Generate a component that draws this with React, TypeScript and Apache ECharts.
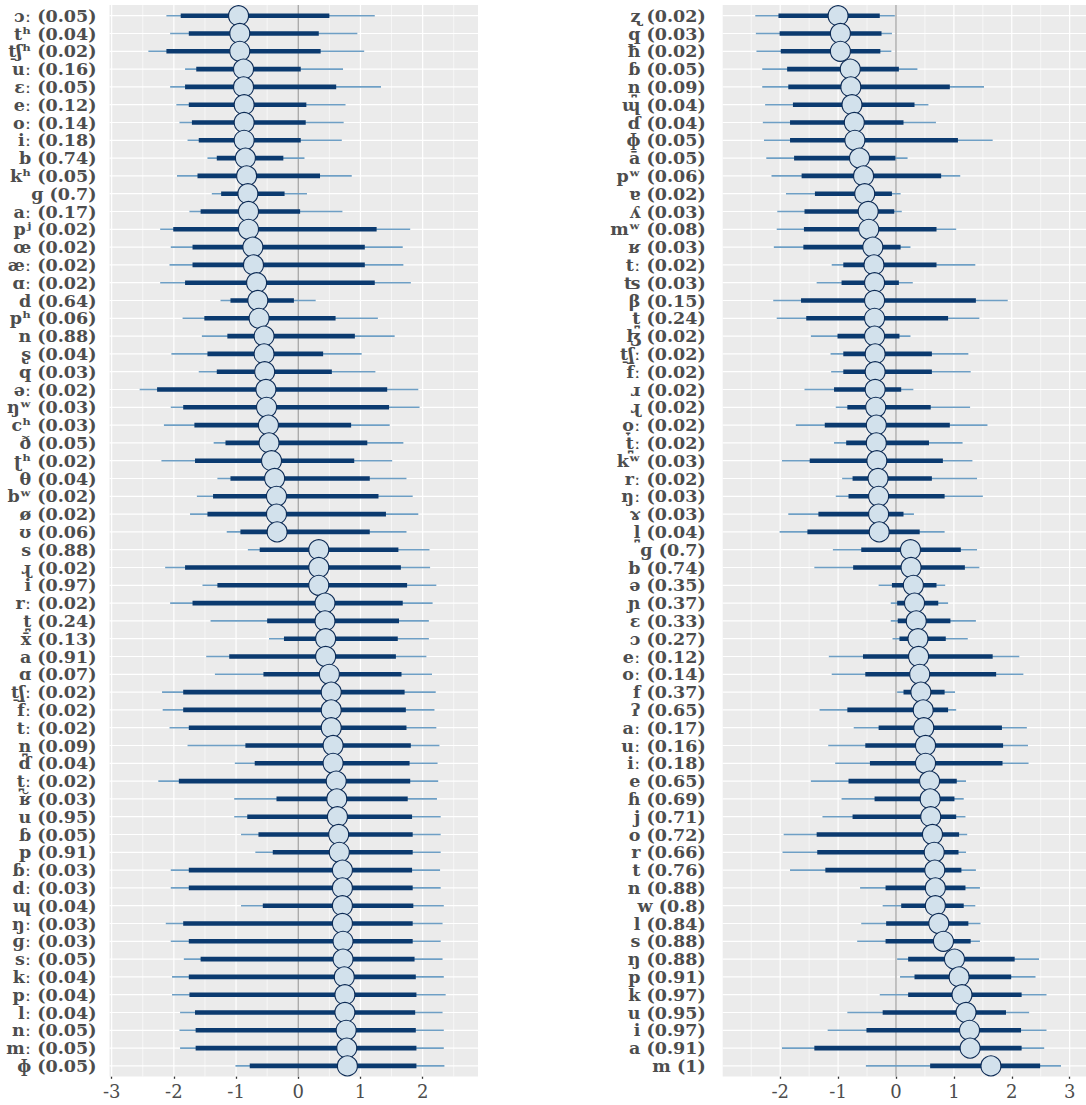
import React, { useEffect, useRef } from "react";
import * as echarts from "echarts";

// ---- left panel: segments with negative mean ----
const leftSymbols = [
  "ɔː", "tʰ", "t̠ʃʰ", "uː", "ɛː", "eː", "oː", "iː", "b", "kʰ",
  "ɡ", "aː", "pʲ", "œ", "æː", "ɑː", "d", "pʰ", "n", "ʂ",
  "q", "əː", "ŋʷ", "cʰ", "ð", "ʈʰ", "θ", "bʷ", "ø", "ʊ",
  "s", "ɻ", "i", "rː", "t̪", "x̄", "a", "ɑ", "t̠ʃː", "f̄ː",
  "tː", "n̪", "ɗ", "t̪ː", "ʁ̆", "u", "ɓ", "p", "ɓː", "dː",
  "ɰ", "ŋː", "ɡː", "sː", "kː", "pː", "lː", "nː", "mː", "ɸ",
];
const leftFreq = [
  "0.05", "0.04", "0.02", "0.16", "0.05", "0.12", "0.14", "0.18", "0.74", "0.05",
  "0.7", "0.17", "0.02", "0.02", "0.02", "0.02", "0.64", "0.06", "0.88", "0.04",
  "0.03", "0.02", "0.03", "0.03", "0.05", "0.02", "0.04", "0.02", "0.02", "0.06",
  "0.88", "0.02", "0.97", "0.02", "0.24", "0.13", "0.91", "0.07", "0.02", "0.02",
  "0.02", "0.09", "0.04", "0.02", "0.03", "0.95", "0.05", "0.91", "0.03", "0.03",
  "0.04", "0.03", "0.03", "0.05", "0.04", "0.04", "0.04", "0.05", "0.05", "0.05",
];
const leftMean = [
  -0.96, -0.94, -0.94, -0.88, -0.88, -0.87, -0.87, -0.87, -0.85, -0.83,
  -0.81, -0.8, -0.8, -0.73, -0.72, -0.67, -0.65, -0.63, -0.55, -0.55,
  -0.54, -0.52, -0.51, -0.48, -0.47, -0.43, -0.38, -0.35, -0.35, -0.34,
  0.33, 0.33, 0.33, 0.43, 0.43, 0.44, 0.44, 0.5, 0.53, 0.53,
  0.53, 0.56, 0.56, 0.61, 0.62, 0.63, 0.65, 0.66, 0.71, 0.71,
  0.71, 0.71, 0.72, 0.72, 0.74, 0.75, 0.75, 0.77, 0.78, 0.79,
];
const leftLo95 = [
  -2.12, -2.06, -2.41, -1.82, -2.06, -1.96, -1.91, -1.78, -1.46, -1.95,
  -1.39, -1.75, -2.22, -2.05, -2.07, -2.22, -1.25, -1.86, -1.55, -2.04,
  -1.6, -2.55, -2.05, -2.16, -1.36, -2.2, -1.3, -1.63, -1.74, -1.15,
  -0.81, -2.14, -1.54, -2.06, -1.41, -0.47, -1.48, -1.34, -2.19, -2.18,
  -2.07, -1.78, -1.02, -2.25, -1.03, -1.03, -0.92, -0.69, -2.05, -2.05,
  -0.92, -2.13, -2.05, -1.84, -2.03, -2.03, -1.9, -1.91, -1.9, -1.01,
];
const leftLo50 = [
  -1.89, -1.76, -2.12, -1.64, -1.82, -1.76, -1.71, -1.6, -1.31, -1.62,
  -1.24, -1.57, -2.01, -1.7, -1.7, -1.82, -1.09, -1.51, -1.14, -1.46,
  -1.31, -2.27, -1.85, -1.67, -1.17, -1.66, -1.09, -1.37, -1.46, -0.93,
  -0.62, -1.82, -1.3, -1.7, -0.5, -0.23, -1.11, -0.56, -1.85, -1.85,
  -1.76, -0.85, -0.7, -1.92, -0.35, -0.82, -0.64, -0.41, -1.76, -1.76,
  -0.57, -1.85, -1.76, -1.57, -1.76, -1.75, -1.66, -1.65, -1.65, -0.78,
];
const leftHi50 = [
  0.5, 0.33, 0.36, 0.04, 0.61, 0.13, 0.12, 0.04, -0.24, 0.35,
  -0.22, 0.03, 1.26, 1.07, 1.07, 1.23, -0.07, 0.6, 0.91, 0.4,
  0.54, 1.43, 1.46, 0.85, 1.11, 0.9, 1.15, 1.29, 1.41, 1.15,
  1.61, 1.65, 1.75, 1.68, 1.62, 1.6, 1.57, 1.66, 1.71, 1.73,
  1.74, 1.81, 1.79, 1.8, 1.76, 1.83, 1.84, 1.84, 1.83, 1.84,
  1.85, 1.84, 1.84, 1.87, 1.89, 1.9, 1.88, 1.89, 1.9, 1.9,
];
const leftHi95 = [
  1.23, 0.95, 1.06, 0.72, 1.33, 0.76, 0.73, 0.7, 0.1, 0.86,
  0.14, 0.71, 1.8, 1.68, 1.69, 1.81, 0.28, 1.28, 1.55, 1.02,
  1.24, 1.93, 1.95, 1.47, 1.69, 1.51, 1.74, 1.84, 1.93, 1.74,
  2.11, 2.12, 2.22, 2.16, 2.1, 2.1, 2.06, 2.15, 2.21, 2.19,
  2.22, 2.27, 2.24, 2.25, 2.23, 2.29, 2.29, 2.29, 2.28, 2.29,
  2.34, 2.32, 2.29, 2.32, 2.34, 2.37, 2.32, 2.34, 2.34, 2.35,
];

// ---- right panel ----
const rightSymbols = [
  "ʐ", "q", "ħ", "ɓ", "n̪", "ɰ", "ɗ", "ɸ", "ā", "pʷ",
  "ɐ", "ʎ", "mʷ", "ʁ", "tː", "ʦ", "β", "t̪", "ɮ", "t̠ʃː",
  "f̄ː", "ɹ", "ɻ", "o̞ː", "t̪ː", "kʷ", "rː", "ŋː", "ɤ", "l̪",
  "ɡ", "b", "ə", "ɲ", "ɛ", "ɔ", "eː", "oː", "f", "ʔ",
  "aː", "uː", "iː", "e", "ɦ", "j", "o", "r", "t", "n",
  "w", "l", "s", "ŋ", "p", "k", "u", "i", "a", "m",
];
const rightFreq = [
  "0.02", "0.03", "0.02", "0.05", "0.09", "0.04", "0.04", "0.05", "0.05", "0.06",
  "0.02", "0.03", "0.08", "0.03", "0.02", "0.03", "0.15", "0.24", "0.02", "0.02",
  "0.02", "0.02", "0.02", "0.02", "0.02", "0.03", "0.02", "0.03", "0.03", "0.04",
  "0.7", "0.74", "0.35", "0.37", "0.33", "0.27", "0.12", "0.14", "0.37", "0.65",
  "0.17", "0.16", "0.18", "0.65", "0.69", "0.71", "0.72", "0.66", "0.76", "0.88",
  "0.8", "0.84", "0.88", "0.88", "0.91", "0.97", "0.95", "0.97", "0.91", "1",
];
const rightMean = [
  -1.0, -0.96, -0.96, -0.79, -0.78, -0.76, -0.72, -0.71, -0.63, -0.56,
  -0.54, -0.48, -0.47, -0.4, -0.38, -0.37, -0.37, -0.37, -0.37, -0.36,
  -0.36, -0.36, -0.35, -0.34, -0.34, -0.33, -0.31, -0.3, -0.3, -0.29,
  0.25, 0.26, 0.3, 0.32, 0.35, 0.38, 0.39, 0.41, 0.43, 0.47,
  0.48, 0.51, 0.51, 0.58, 0.59, 0.6, 0.63, 0.66, 0.67, 0.68,
  0.68, 0.74, 0.82, 1.01, 1.09, 1.14, 1.21, 1.27, 1.28, 1.64,
];
const rightLo95 = [
  -2.43, -2.42, -2.41, -2.31, -2.31, -2.26, -2.3, -2.28, -2.24, -2.15,
  -1.9, -2.05, -2.06, -2.11, -1.11, -1.37, -2.12, -2.06, -1.47, -1.13,
  -1.12, -1.58, -1.04, -1.73, -1.07, -1.97, -0.93, -1.04, -1.86, -2.01,
  -1.09, -1.41, -0.3, -0.09, -0.09, -0.06, -1.16, -1.11, 0.02, -1.32,
  -0.73, -1.17, -1.05, -1.47, -0.94, -1.27, -1.94, -1.96, -1.83, -0.62,
  -0.23, -0.6, -0.67, 0.02, 0.07, -0.28, -0.84, -1.18, -1.97, -0.52,
];
const rightLo50 = [
  -2.03, -2.01, -1.99, -1.88, -1.86, -1.78, -1.83, -1.83, -1.76, -1.63,
  -1.4, -1.58, -1.59, -1.6, -0.91, -0.94, -1.64, -1.55, -1.01, -0.91,
  -0.91, -1.07, -0.84, -1.23, -0.86, -1.49, -0.75, -0.82, -1.34, -1.53,
  -0.6, -0.74, -0.07, 0.02, 0.03, 0.06, -0.57, -0.53, 0.13, -0.84,
  -0.3, -0.53, -0.45, -0.82, -0.37, -0.75, -1.37, -1.36, -1.22, -0.18,
  0.09, -0.17, -0.18, 0.21, 0.32, 0.21, -0.23, -0.51, -1.41, 0.59,
];
const rightHi50 = [
  -0.28, -0.25, -0.27, 0.05, 0.93, 0.32, 0.13, 1.07, -0.01, 0.78,
  -0.07, -0.03, 0.7, 0.08, 0.7, 0.05, 1.38, 0.9, 0.06, 0.62,
  0.62, 0.09, 0.6, 0.93, 0.57, 0.81, 0.62, 0.84, 0.13, 0.41,
  1.12, 1.19, 0.7, 0.73, 0.94, 0.86, 1.67, 1.73, 0.84, 0.9,
  1.83, 1.85, 1.84, 1.05, 1.01, 1.04, 1.09, 1.08, 1.13, 1.2,
  1.17, 1.25, 1.29, 2.05, 1.99, 2.17, 1.9, 2.16, 2.17, 2.49,
];
const rightHi95 = [
  -0.02, -0.07, -0.08, 0.37, 1.52, 0.56, 0.69, 1.67, 0.2, 1.11,
  0.08, 0.1, 1.04, 0.25, 1.37, 0.29, 1.93, 1.44, 0.25, 1.25,
  1.29, 0.3, 1.28, 1.58, 1.15, 1.32, 1.4, 1.5, 0.31, 0.84,
  1.4, 1.44, 0.85, 0.9, 1.38, 1.24, 2.13, 2.2, 1.02, 1.04,
  2.26, 2.28, 2.29, 1.21, 1.17, 1.2, 1.23, 1.21, 1.38, 1.45,
  1.37, 1.46, 1.45, 2.47, 2.41, 2.6, 2.3, 2.6, 2.56, 2.85,
];

// axis breaks
const leftTicks = [-3, -2, -1, 0, 1, 2];
const rightTicks = [-2, -1, 0, 1, 2, 3];
const leftBreaks = [-3, -2.5, -2, -1.5, -1, -0.5, 0, 0.5, 1, 1.5, 2, 2.5];
const rightBreaks = [-2.5, -2, -1.5, -1, -0.5, 0, 0.5, 1, 1.5, 2, 2.5, 3];

const PANEL_BG = "#EBEBEB";
const TEXT = "#4D4D4D";
const TICK = "#333333";
const THIN = "#6E9FC5";
const THICK = "#0B3A6F";
const DOT_FILL = "#D2E1EC";
const DOT_EDGE = "#0D2B55";
const FONT = "DejaVu Serif";

const ROWS = 60;
const BAND = 17.8;
const GRID_TOP = 15.7 - BAND / 2;
const GRID_H = BAND * ROWS;

function makeLabels(symbols: string[], freq: string[]) {
  return symbols.map((s, i) => `${s} (${freq[i]})`);
}

function makeRows(lo95: number[], lo50: number[], mean: number[], hi50: number[], hi95: number[]) {
  return mean.map((m, i) => [i, lo95[i], lo50[i], m, hi50[i], hi95[i]]);
}

// panel background, grid lines and the zero reference line
function panelRenderer(breaks: number[], rowCount: number) {
  return (params: any, api: any) => {
    const cs = params.coordSys;
    const pad = (cs.height / rowCount) * 0.1;
    const top = cs.y - pad;
    const bottom = cs.y + cs.height + pad;
    const children: any[] = [
      {
        type: "rect",
        shape: { x: cs.x, y: top, width: cs.width, height: bottom - top },
        style: { fill: PANEL_BG },
      },
    ];
    breaks.forEach((v) => {
      const x = api.coord([v, 0])[0];
      children.push({
        type: "line",
        shape: { x1: x, y1: top, x2: x, y2: bottom },
        style: { stroke: "#FFFFFF", lineWidth: Number.isInteger(v) ? 1.2 : 0.6 },
      });
    });
    for (let i = 0; i < rowCount; i++) {
      const y = api.coord([0, i])[1];
      children.push({
        type: "line",
        shape: { x1: cs.x, y1: y, x2: cs.x + cs.width, y2: y },
        style: { stroke: "#FFFFFF", lineWidth: 1.2 },
      });
    }
    const x0 = api.coord([0, 0])[0];
    children.push({
      type: "line",
      shape: { x1: x0, y1: top, x2: x0, y2: bottom },
      style: { stroke: "#A3A3A3", lineWidth: 1.3 },
    });
    return { type: "group", children };
  };
}

// interval marks: thin 95% line, thick 50% bar, point estimate
function markRenderer(params: any, api: any) {
  const row = api.value(0);
  const px = (v: number) => api.coord([v, row])[0];
  const y = api.coord([0, row])[1];
  return {
    type: "group",
    children: [
      {
        type: "line",
        shape: { x1: px(api.value(1)), y1: y, x2: px(api.value(5)), y2: y },
        style: { stroke: THIN, lineWidth: 1.6 },
      },
      {
        type: "line",
        shape: { x1: px(api.value(2)), y1: y, x2: px(api.value(4)), y2: y },
        style: { stroke: THICK, lineWidth: 4.6 },
      },
      {
        type: "circle",
        shape: { cx: px(api.value(3)), cy: y, r: 10 },
        style: { fill: DOT_FILL, stroke: DOT_EDGE, lineWidth: 1.1 },
      },
    ],
  };
}

function xAxis(gridIndex: number, min: number, max: number, ticks: number[]) {
  return {
    type: "value",
    gridIndex,
    min,
    max,
    axisLine: { show: false },
    splitLine: { show: false },
    axisTick: {
      show: true,
      customValues: ticks,
      length: 4,
      lineStyle: { color: TICK, width: 1.3 },
    },
    axisLabel: {
      customValues: ticks,
      margin: 8,
      fontFamily: FONT,
      fontSize: 18,
      color: TEXT,
    },
  };
}

function yAxis(gridIndex: number, labels: string[], margin: number) {
  return {
    type: "category",
    gridIndex,
    inverse: true,
    data: labels,
    axisLine: { show: false },
    splitLine: { show: false },
    axisTick: {
      show: true,
      alignWithLabel: true,
      length: 5,
      lineStyle: { color: TICK, width: 1.6 },
    },
    axisLabel: {
      interval: 0,
      margin,
      fontFamily: FONT,
      fontWeight: "bold",
      fontSize: 17.5,
      lineHeight: 16,
      color: TEXT,
    },
  };
}

export default function App() {
  const ref = useRef<HTMLDivElement>(null);

  useEffect(() => {
    if (!ref.current) return;
    const chart = echarts.init(ref.current, null, { renderer: "svg" });

    const leftRows = makeRows(leftLo95, leftLo50, leftMean, leftHi50, leftHi95);
    const rightRows = makeRows(rightLo95, rightLo50, rightMean, rightHi50, rightHi95);

    chart.setOption({
      animation: false,
      backgroundColor: "#FFFFFF",
      grid: [
        { left: 109.5, top: GRID_TOP, width: 368.5, height: GRID_H, outerBoundsMode: "none" },
        { left: 722.7, top: GRID_TOP, width: 363.3, height: GRID_H, outerBoundsMode: "none" },
      ],
      xAxis: [
        xAxis(0, -3.035, 2.89, leftTicks),
        xAxis(1, -2.993, 3.282, rightTicks),
      ],
      yAxis: [
        yAxis(0, makeLabels(leftSymbols, leftFreq), 13),
        yAxis(1, makeLabels(rightSymbols, rightFreq), 17),
      ],
      series: [
        {
          type: "custom",
          xAxisIndex: 0,
          yAxisIndex: 0,
          z: 1,
          silent: true,
          data: [[0, 0]],
          encode: { x: 0, y: 1 },
          renderItem: panelRenderer(leftBreaks, ROWS),
        },
        {
          type: "custom",
          xAxisIndex: 1,
          yAxisIndex: 1,
          z: 1,
          silent: true,
          data: [[0, 0]],
          encode: { x: 0, y: 1 },
          renderItem: panelRenderer(rightBreaks, ROWS),
        },
        {
          type: "custom",
          xAxisIndex: 0,
          yAxisIndex: 0,
          z: 3,
          data: leftRows,
          encode: { y: 0, x: [1, 2, 3, 4, 5] },
          renderItem: markRenderer,
        },
        {
          type: "custom",
          xAxisIndex: 1,
          yAxisIndex: 1,
          z: 3,
          data: rightRows,
          encode: { y: 0, x: [1, 2, 3, 4, 5] },
          renderItem: markRenderer,
        },
      ],
    });

    return () => chart.dispose();
  }, []);

  return (
    <div
      ref={ref}
      style={{ position: "fixed", left: 0, top: 0, width: 1086, height: 1105, background: "#FFFFFF" }}
    />
  );
}
